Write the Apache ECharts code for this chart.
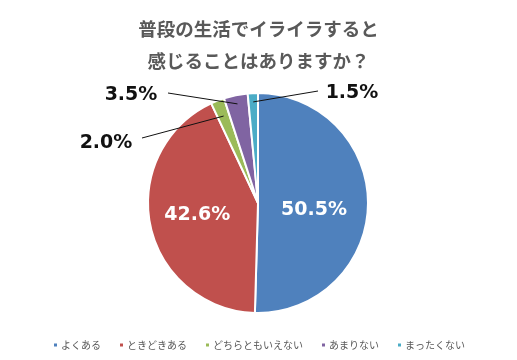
<!DOCTYPE html>
<html><head><meta charset="utf-8">
<script src="https://cdn.jsdelivr.net/npm/echarts@6/dist/echarts.min.js"></script>
<style>html,body{margin:0;padding:0;background:#fff}#c{width:517px;height:360px}</style>
</head><body><div id="c"></div>
<script>
const categories = ['よくある','ときどきある','どちらともいえない','あまりない','まったくない'];
const values = [50.5, 42.6, 2.0, 3.5, 1.5];
const colors = ['#4F81BD','#C0504D','#9BBB59','#8064A2','#4BACC6'];
const titleText = '普段の生活でイライラすると\n感じることはありますか？';
// outside label placements (label centre, leader start) for the small slices
const outsideLabelPos = {2: [106, 143], 3: [131, 95], 4: [352, 93]};
const leaderStart = {2: [142, 138], 3: [168, 93], 4: [318, 91]};
const leaderDepth = {2: 0.85, 3: 0.92, 4: 0.92};
const CX = 258, CY = 203, R = 110;

const total = values.reduce((a, b) => a + b, 0);
function midPoint(i, f) {
  let cum = 0;
  for (let k = 0; k < i; k++) cum += values[k];
  const a = (cum + values[i] / 2) / total * 2 * Math.PI;
  return [CX + R * f * Math.sin(a), CY - R * f * Math.cos(a)];
}

const leaders = Object.keys(leaderStart).map(k => {
  const s = leaderStart[k], e = midPoint(+k, leaderDepth[k]);
  return {type: 'line', z: 100, silent: true,
          shape: {x1: s[0], y1: s[1], x2: e[0], y2: e[1]},
          style: {stroke: '#111', lineWidth: 1}};
});

const chart = echarts.init(document.getElementById('c'));
const font = '"Noto Sans CJK JP", "Noto Sans", sans-serif';
chart.setOption({
  animation: false,
  title: {
    text: titleText, left: 'center', top: 8,
    textStyle: {fontFamily: font, fontSize: 18.5, fontWeight: 'bold', color: '#595959', lineHeight: 32}
  },
  legend: {
    bottom: 5, left: 'center', itemWidth: 5, itemHeight: 5, itemGap: 17, icon: 'rect',
    textStyle: {fontFamily: font, fontSize: 10, color: '#595959', padding: [0, 0, 0, -2]},
    data: categories
  },
  graphic: leaders,
  series: [{
    type: 'pie', radius: R, center: [CX, CY], startAngle: 90, clockwise: true,
    itemStyle: {borderColor: '#fff', borderWidth: 2},
    labelLine: {show: false},
    data: categories.map((n, i) => ({
      name: n, value: values[i], itemStyle: {color: colors[i]},
      label: i < 2 ? {show: true, position: 'inside', color: '#fff'} : {show: true, position: 'outside', color: '#111'}
    })),
    label: {
      formatter: p => values[p.dataIndex].toFixed(1) + '%',
      fontFamily: 'Verdana, "DejaVu Sans", sans-serif', fontWeight: 'bold', fontSize: 19
    },
    labelLayout: function (params) {
      const i = params.dataIndex;
      const p = outsideLabelPos[i];
      if (!p) return i === 0 ? {dy: 6, dx: -2} : {dx: -4};
      return {x: p[0], y: p[1], align: 'center', verticalAlign: 'middle'};
    }
  }]
});
</script></body></html>
